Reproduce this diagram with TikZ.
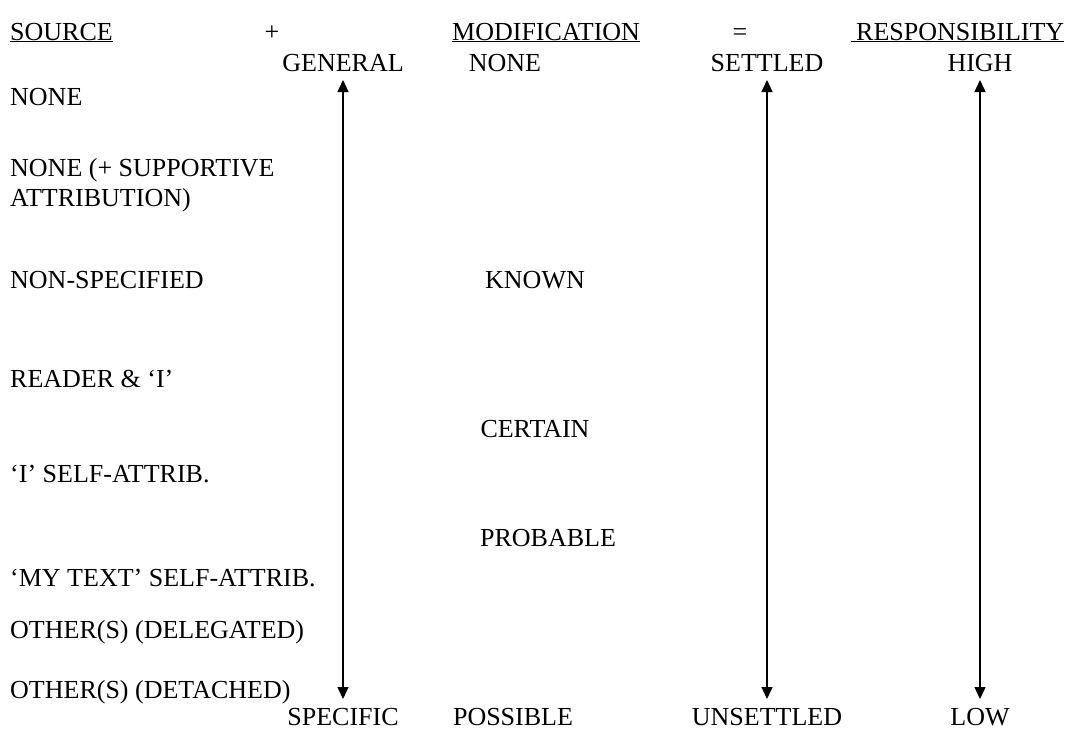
\documentclass[tikz,border=0pt]{standalone}
\usepackage{fontspec}
\setmainfont{Liberation Serif}
\usetikzlibrary{arrows.meta}
\begin{document}
\begin{tikzpicture}[x=1pt,y=-1pt,
  lbl/.style={font=\fontsize{26}{30}\selectfont, inner sep=0pt, anchor=base},
  lft/.style={lbl, anchor=base west, align=left},
  endlbl/.style={lbl, text height=17pt, text depth=0pt, outer sep=9pt},
  scale arrow/.style={{Triangle[width=11pt,length=12pt]}-{Triangle[width=11pt,length=12pt]}, line width=1.4pt}
]
\useasboundingbox (0,0) rectangle (1070,731);

% heading: SOURCE + MODIFICATION = RESPONSIBILITY
\node[lft] (src)  at (10,40)  {\underline{SOURCE}};
\node[lbl] (plus) at (272,40) {+};
\node[lft] (mod)  at (452,40) {\underline{MODIFICATION}};
\node[lbl] (eq)   at (740,40) {=};
\node[lft] (resp) at (851,40) {\underline{\hspace{5pt}RESPONSIBILITY}};

% ends of the three scales
\node[endlbl] (general)   at (343,71)  {GENERAL};
\node[endlbl] (specific)  at (343,725) {SPECIFIC};
\node[endlbl] (settled)   at (767,71)  {SETTLED};
\node[endlbl] (unsettled) at (767,725) {UNSETTLED};
\node[endlbl] (high)      at (980,71)  {HIGH};
\node[endlbl] (low)       at (980,725) {LOW};

% modification levels
\node[lbl] (mnone)    at (505,71)  {NONE};
\node[lbl] (known)    at (535,288) {KNOWN};
\node[lbl] (certain)  at (535,437) {CERTAIN};
\node[lbl] (probable) at (548,546) {PROBABLE};
\node[lbl] (possible) at (513,725) {POSSIBLE};

% sources (a two-line node sits on the baseline of its last line)
\node[lft] (s1) at (10,105) {NONE};
\node[lft] (s2) at (10,206) {NONE (+ SUPPORTIVE\\ATTRIBUTION)};
\node[lft] (s3) at (10,288) {NON-SPECIFIED};
\node[lft] (s4) at (10,387) {READER \& ‘I’};
\node[lft] (s5) at (10,482) {‘I’ SELF-ATTRIB.};
\node[lft] (s6) at (10,586) {‘MY TEXT’ SELF-ATTRIB.};
\node[lft] (s7) at (10,638) {OTHER(S) (DELEGATED)};
\node[lft] (s8) at (10,698) {OTHER(S) (DETACHED)};

% scales
\draw[scale arrow] (general) -- (specific);
\draw[scale arrow] (settled) -- (unsettled);
\draw[scale arrow] (high) -- (low);
\end{tikzpicture}
\end{document}
